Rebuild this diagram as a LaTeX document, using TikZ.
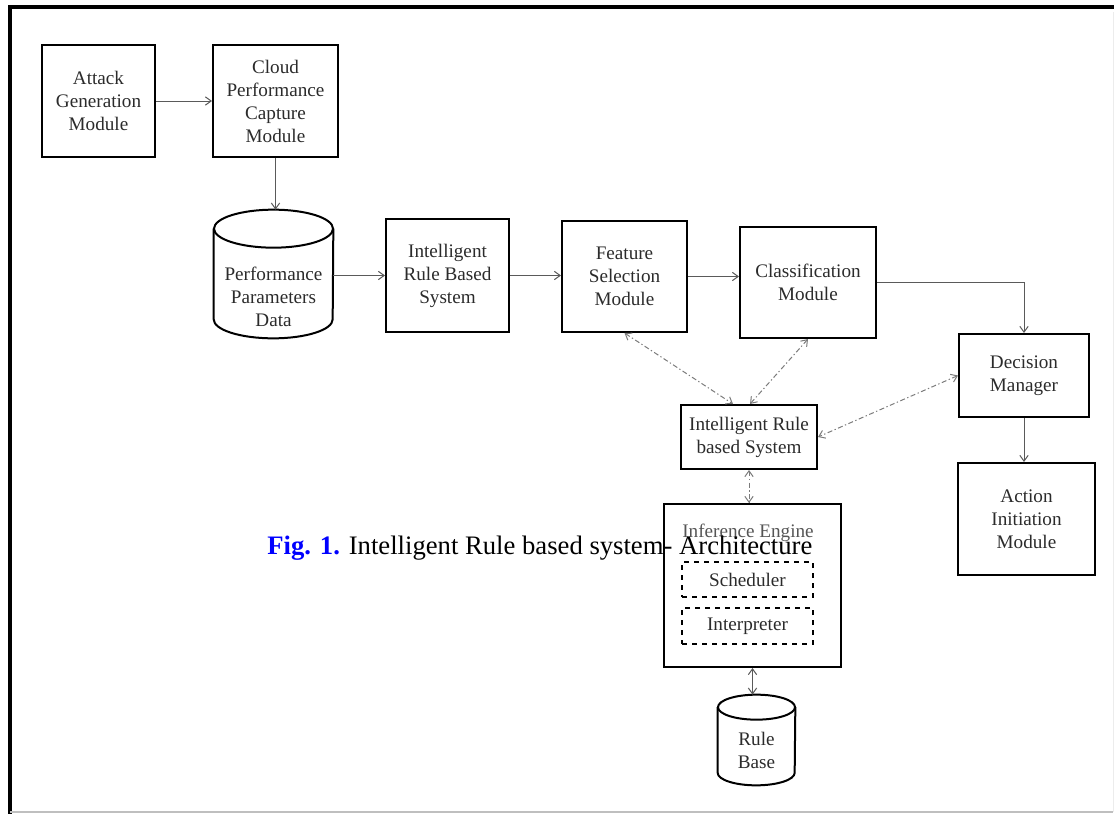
\documentclass[tikz,border=0pt]{standalone}
\usepackage{fontspec}
\setmainfont{Liberation Serif}
\usetikzlibrary{shapes.geometric}
\usetikzlibrary{calc}
\usetikzlibrary{positioning}
\usetikzlibrary{arrows.meta}

\definecolor{inkgray}{HTML}{2B2B2B}
\definecolor{linegray}{HTML}{5A5A5A}
\definecolor{figblue}{HTML}{0000FF}

\tikzset{
  box/.style={draw, line width=1.2pt, align=center, inner sep=0pt, text=inkgray,
    font=\fontsize{11.5}{13.8}\selectfont},
  subbox/.style={draw, dashed, line width=1.2pt, align=center, inner sep=0pt, text=inkgray,
    font=\fontsize{11.5}{13.8}\selectfont},
  db/.style={draw=none, inner sep=0pt},
  txt/.style={align=center, text=inkgray, font=\fontsize{11.5}{13.8}\selectfont},
  outline/.style={line width=1.2pt},
  flow/.style={->, draw=linegray, line width=0.6pt},
  link/.style={<->, draw=linegray!80, line width=0.6pt,
    dash pattern=on 3pt off 1.5pt on 0.8pt off 1.5pt}
}

\begin{document}
\begin{tikzpicture}[x=0.6pt, y=-0.6pt, >={Straight Barb[length=3.5pt,width=5pt]}]
        \useasboundingbox (0,0) rectangle (1114,814);

        % Frame
        \draw[line width=2.4pt] (10,814) -- (10,7) -- (1114,7);
        \draw[gray!50, line width=0.8pt] (10,812) -- (1113,812);
        \draw[gray!15, line width=0.6pt] (1113,12) -- (1113,812);

        % Top row
        \node[box, minimum width=113*0.6pt, minimum height=112*0.6pt] (atk) at (98.5,101) {Attack\\Generation\\Module};
        \node[box, minimum width=125*0.6pt, minimum height=112*0.6pt] (cpc) at (275.5,101) {Cloud\\Performance\\Capture\\Module};

        % Data store
        \node[db, minimum width=119*0.6pt, minimum height=128*0.6pt] (ppd) at (273.5,274) {};
        \draw[outline] ($(ppd.north west)+(0,19)$) -- ($(ppd.south west)+(0,-19)$)
            arc[start angle=180, end angle=0, x radius=59.5, y radius=19] -- ($(ppd.north east)+(0,19)$);
        \draw[outline] ($(ppd.north)+(0,19)$) ellipse [x radius=59.5, y radius=19];
        \node[txt] (ppdtxt) at (273.5,297) {Performance\\Parameters\\Data};

        % Processing chain
        \node[box, minimum width=123*0.6pt, minimum height=113*0.6pt] (irb) at (447.5,275.5) {Intelligent\\Rule Based\\System};
        \node[box, minimum width=125*0.6pt, minimum height=111*0.6pt] (fsm) at (624.5,276.5) {Feature\\Selection\\Module};
        \node[box, minimum width=136*0.6pt, minimum height=111*0.6pt] (cls) at (808,282.5) {Classification\\Module};
        \node[box, minimum width=130*0.6pt, minimum height=83*0.6pt] (dcm) at (1024,375.5) {Decision\\Manager};
        \node[box, minimum width=137*0.6pt, minimum height=112*0.6pt] (aim) at (1026.5,519) {Action\\Initiation\\Module};

        % Rule based system
        \node[box, minimum width=136*0.6pt, minimum height=64*0.6pt] (irs) at (749,437) {Intelligent Rule\\based System};
        \node[box, minimum width=177*0.6pt, minimum height=163*0.6pt] (inf) at (752.5,585.5) {};
        \node[txt, text=inkgray!80] (inftxt) at (748,533) {Inference Engine};
        \node[subbox, minimum width=131*0.6pt, minimum height=35*0.6pt] (sch) at (747.5,579.5) {Scheduler};
        \node[subbox, minimum width=131*0.6pt, minimum height=36*0.6pt] (itp) at (747.5,626) {Interpreter};
        \node[db, minimum width=77*0.6pt, minimum height=90*0.6pt] (rb) at (756.5,740) {};
        \draw[outline] ($(rb.north west)+(0,12.5)$) -- ($(rb.south west)+(0,-12.5)$)
            arc[start angle=180, end angle=0, x radius=38.5, y radius=12.5] -- ($(rb.north east)+(0,12.5)$);
        \draw[outline] ($(rb.north)+(0,12.5)$) ellipse [x radius=38.5, y radius=12.5];
        \node[txt] (rbtxt) at (756.5,750) {Rule\\Base};

        % Solid connectors
        \draw[flow] (atk.east) -- (cpc.west);
        \draw[flow] (cpc.south) -- (cpc.south |- ppd.north);
        \draw[flow] (ppd.east |- irb.west) -- (irb.west);
        \draw[flow] (irb.east) -- (irb.east -| fsm.west);
        \draw[flow] (fsm.east) -- (fsm.east -| cls.west);
        \draw[flow] (cls.east) -| (dcm.north);
        \draw[flow] (dcm.south) -- (dcm.south |- aim.north);
        \draw[<->, draw=linegray, line width=0.6pt] (inf.south) -- (inf.south |- rb.north);

        % Dotted links to the rule based system
        \draw[link] (fsm.south) -- ($(irs.north)+(-16,0)$);
        \draw[link] (cls.south) -- ($(irs.north)+(1,0)$);
        \draw[link] (dcm.west) -- (irs.east);
        \draw[link] (irs.south) -- (irs.south |- inf.north);

        % Caption
        \node[anchor=base west, inner sep=0pt, font=\fontsize{16}{19}\selectfont] (cap) at (267,554)
            {\textcolor{figblue}{\textbf{Fig. 1.}} Intelligent Rule based system- Architecture};

\end{tikzpicture}
\end{document}
